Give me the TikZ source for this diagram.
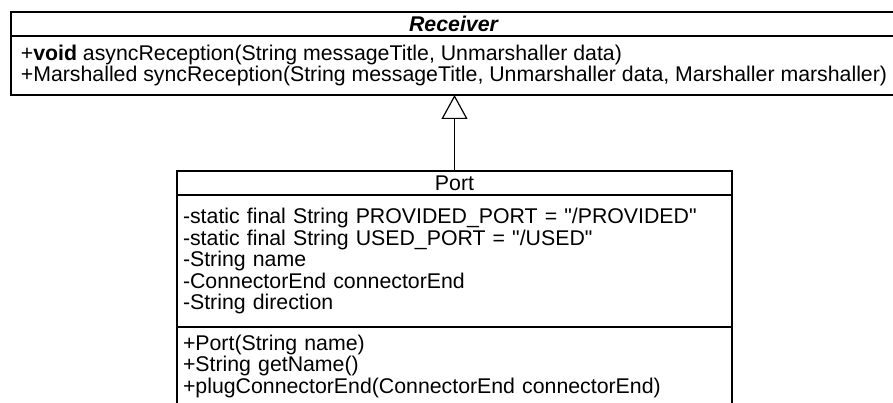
\documentclass[tikz,border=0pt]{standalone}
\usepackage{fontspec}
\setmainfont{Liberation Sans}[Ligatures=TeXOff]
\usetikzlibrary{positioning, arrows.meta}

\begin{document}
\begin{tikzpicture}[x=1pt, y=1pt, node distance=0pt,
    compartment/.style={draw, line width=1.2pt, outer sep=0pt, inner xsep=6pt, inner ysep=0pt, align=left, font=\fontsize{21.3}{21.5}\selectfont}]
  \useasboundingbox (0,0) rectangle (893,-403);
  % interface Receiver
  \node[compartment, anchor=north west, minimum width=886pt, minimum height=24pt, align=center] (recvname) at (11,-12) {\textbf{\textit{Receiver}}};
  \node[compartment, below=of recvname, minimum width=886pt, minimum height=59pt] (recvops) {+\textbf{void} asyncReception(String messageTitle, Unmarshaller data)\\+Marshalled syncReception(String messageTitle, Unmarshaller data, Marshaller marshaller)};
  % class Port
  \node[compartment, anchor=north west, minimum width=555pt, minimum height=24pt, align=center] (portname) at (177,-171) {Port};
  \node[compartment, below=of portname, text width=543pt, minimum height=132pt] (portattrs) {-static final String PROVIDED\_PORT = "/PROVIDED"\\-static final String USED\_PORT = "/USED"\\-String name\\-ConnectorEnd connectorEnd\\-String direction};
  \node[compartment, below=of portattrs, text width=543pt, minimum height=78pt] (portops) {+Port(String name)\\+String getName()\\+plugConnectorEnd(ConnectorEnd connectorEnd)};
  % generalization
  \draw[line width=1.2pt, -{Triangle[open, length=24pt, width=26pt]}] (portname.north) -- (portname.north |- recvops.south);
\end{tikzpicture}
\end{document}
